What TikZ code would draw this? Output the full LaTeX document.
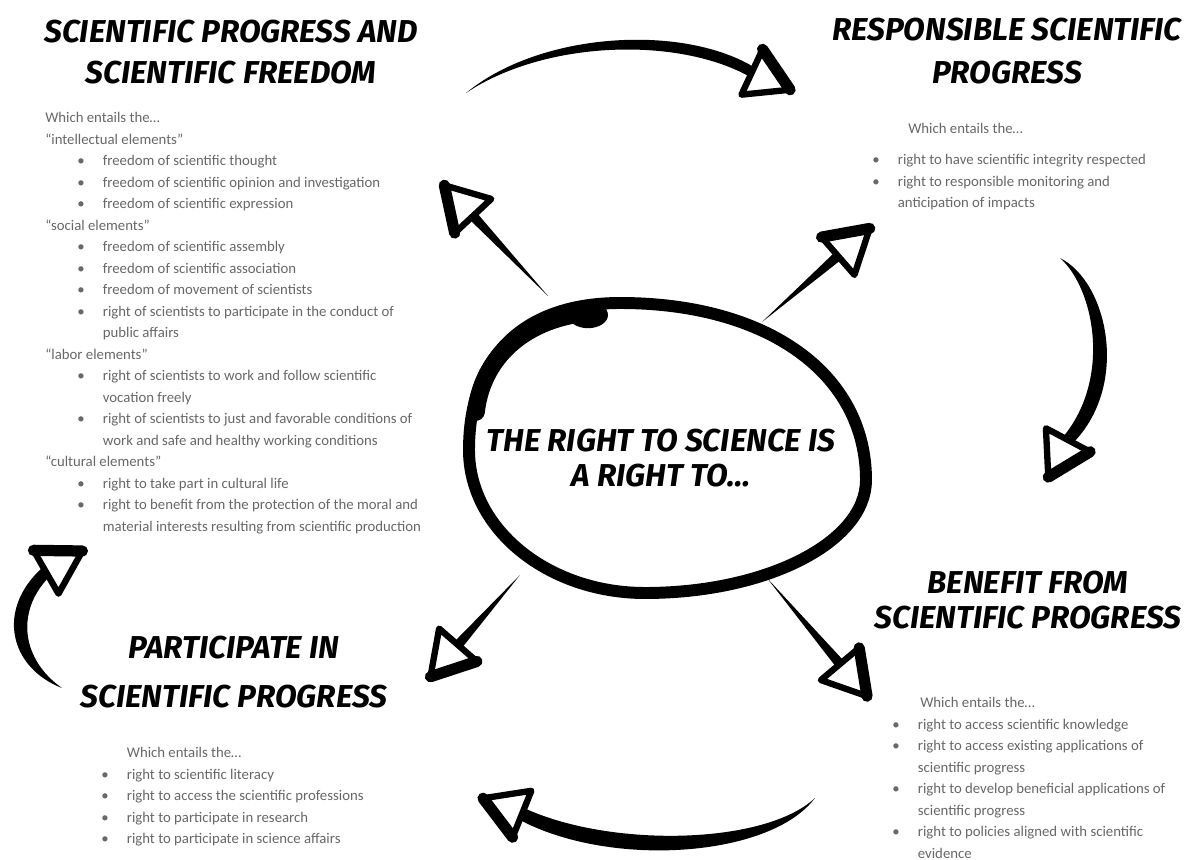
\documentclass[tikz,border=0pt]{standalone}
\usepackage{fontspec}
\usepackage{xcolor}
\usetikzlibrary{calc}

\newfontfamily\headfont{Fira Sans}
\newfontfamily\bodyfont{Carlito}
\definecolor{listgrey}{RGB}{104,104,104}

\newcommand{\dotitem}[1]{\makebox[0.64cm][l]{\textbullet}#1}
\newcommand{\subdot}[1]{\hspace*{0.8cm}\dotitem{#1}}
\newcommand{\subcont}[1]{\hspace*{1.44cm}#1}
\newcommand{\cont}[1]{\hspace*{0.64cm}#1}

\tikzset{
  heading/.style={font=\headfont\bfseries\itshape\fontsize{22.5}{24.8}\selectfont, align=center, inner sep=0pt},
  entails/.style={font=\bodyfont\fontsize{10.5}{15.3}\selectfont, text=listgrey, align=left, inner sep=0pt, anchor=north west},
  hubline/.style={line width=8.5pt, line cap=round, line join=round},
  brushhead/.pic={
    \filldraw[fill=white, line width=4.5pt, line join=round] (0,-25) -- (42,0) -- (0,25) -- cycle;
    \draw[line width=8pt, line cap=round] (0,-25) -- (42,0);
  }
}

\begin{document}
\begin{tikzpicture}[x=0.025cm, y=-0.025cm]
  \path[use as bounding box, fill=white] (0,0) rectangle (1203,860);

  % the four rights
  \node[heading] (hfree) at (231,52) {SCIENTIFIC PROGRESS AND\\[5pt] SCIENTIFIC FREEDOM};
  \node[heading] (hresp) at (1007,51) {RESPONSIBLE SCIENTIFIC\\[5.5pt] PROGRESS};
  \node[heading] (hbene) at (1028,600) {BENEFIT FROM\\ SCIENTIFIC PROGRESS};
  \node[heading] (hpart) at (234,672) {PARTICIPATE IN\\[10.6pt] SCIENTIFIC PROGRESS};

  \node[entails] (lfree) at (45,112) {Which entails the…\\
    “intellectual elements”\\
    \subdot{freedom of scientific thought}\\
    \subdot{freedom of scientific opinion and investigation}\\
    \subdot{freedom of scientific expression}\\
    “social elements”\\
    \subdot{freedom of scientific assembly}\\
    \subdot{freedom of scientific association}\\
    \subdot{freedom of movement of scientists}\\
    \subdot{right of scientists to participate in the conduct of}\\
    \subcont{public affairs}\\
    “labor elements”\\
    \subdot{right of scientists to work and follow scientific}\\
    \subcont{vocation freely}\\
    \subdot{right of scientists to just and favorable conditions of}\\
    \subcont{work and safe and healthy working conditions}\\
    “cultural elements”\\
    \subdot{right to take part in cultural life}\\
    \subdot{right to benefit from the protection of the moral and}\\
    \subcont{material interests resulting from scientific production}};

  \node[entails] (lresp) at (872,123) {\hspace*{0.9cm}Which entails the…\\[7pt]
    \dotitem{right to have scientific integrity respected}\\
    \dotitem{right to responsible monitoring and}\\
    \cont{anticipation of impacts}};

  \node[entails] (lbene) at (892,697) {\hspace*{0.7cm}Which entails the…\\
    \dotitem{right to access scientific knowledge}\\
    \dotitem{right to access existing applications of}\\
    \cont{scientific progress}\\
    \dotitem{right to develop beneficial applications of}\\
    \cont{scientific progress}\\
    \dotitem{right to policies aligned with scientific}\\
    \cont{evidence}};

  \node[entails] (lpart) at (101,747) {\cont{Which entails the…}\\
    \dotitem{right to scientific literacy}\\
    \dotitem{right to access the scientific professions}\\
    \dotitem{right to participate in research}\\
    \dotitem{right to participate in science affairs}};

  % hub loop, heavier at the top left
  \draw[hubline] (469,450) .. controls (469,355) and (525,303) .. (620,303)
    .. controls (768,303) and (866,374) .. (866,480)
    .. controls (866,542) and (767,593) .. (645,593)
    .. controls (548,593) and (469,529) .. cycle;
  \draw[line width=12.5pt, line cap=round] (476,412) .. controls (483,352) and (532,315) .. (598,312);
  \fill (588,315) ellipse [x radius=0.5cm, y radius=0.33cm];
  \node[heading] (core) at (661,458) {THE RIGHT TO SCIENCE IS\\ A RIGHT TO…};

  % spokes
  \coordinate (t1) at (548,296); \coordinate (h1) at (473,216);
  \coordinate (t2) at (762,322); \coordinate (h2) at (838,256);
  \coordinate (t3) at (520,575); \coordinate (h3) at (458,645);
  \coordinate (t4) at (767,578); \coordinate (h4) at (840,664);
  \foreach \i in {1,...,4}
    \fill (t\i) -- ($(h\i)!3.5pt!90:(t\i)$) -- ($(h\i)!3.5pt!-90:(t\i)$) -- cycle;

  % round the cycle
  \coordinate (freeA) at (466,93);  \coordinate (respA) at (752,72);
  \coordinate (respB) at (1060,258); \coordinate (beneB) at (1068,440);
  \coordinate (beneC) at (815,798); \coordinate (partC) at (522,814);
  \coordinate (partD) at (62,688);  \coordinate (freeD) at (46,572);
  \fill (freeA) .. controls (540,32) and (680,24) .. ($(respA)+(0,-6)$) -- ($(respA)+(0,6)$) .. controls (680,36) and (545,40) .. (freeA) -- cycle;
  \fill (respB) .. controls (1108,282) and (1130,385) .. ($(beneB)+(5,3)$) -- ($(beneB)+(-5,-3)$) .. controls (1112,378) and (1094,288) .. (respB) -- cycle;
  \fill (beneC) .. controls (770,858) and (610,868) .. ($(partC)+(-2,6)$) -- ($(partC)+(2,-6)$) .. controls (610,848) and (765,845) .. (beneC) -- cycle;
  \fill (partD) .. controls (10,668) and (-5,610) .. ($(freeD)+(-3,-5)$) -- ($(freeD)+(3,5)$) .. controls (15,612) and (22,660) .. (partD) -- cycle;

  \foreach \p/\a in {h1/133, h2/41, h3/-131, h4/-50, respA/-25, beneB/-118, partC/158, freeD/30}
    \pic[rotate=\a] at (\p) {brushhead};
\end{tikzpicture}
\end{document}
